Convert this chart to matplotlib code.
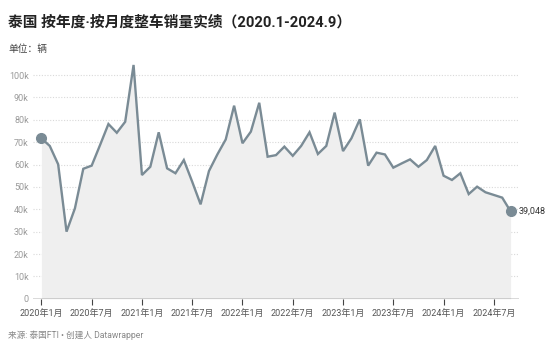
import numpy as np
import matplotlib
matplotlib.use('Agg')
import matplotlib.pyplot as plt

plt.rcParams['font.family'] = ['Roboto', 'Noto Sans CJK SC', 'DejaVu Sans']

# monthly sales, Jan 2020 - Sep 2024
sales = [71700, 68300, 60100, 30000, 40400, 58100, 59500, 68700, 78100, 74200, 79100, 104500,
         55300, 59000, 74400, 58300, 56100, 62000, 52300, 42200, 57100, 64500, 71200, 86300,
         69500, 74700, 87600, 63500, 64200, 68000, 63900, 68300, 74400, 64700, 68300, 83200,
         66000, 71700, 80200, 59500, 65300, 64500, 58600, 60500, 62300, 59000, 62000, 68300,
         55000, 53100, 56100, 46800, 50100, 47600, 46400, 45200, 39048]
tick_labels = ['2020年1月', '2020年7月', '2021年1月', '2021年7月', '2022年1月',
               '2022年7月', '2023年1月', '2023年7月', '2024年1月', '2024年7月']

x = np.arange(len(sales))
line_col = '#7a8b95'

fig = plt.figure(figsize=(5.54, 3.54), dpi=100)
ax = fig.add_axes([0.0596, 0.156, 0.8772, 0.670])

ax.fill_between(x, sales, 0, color='#efefef', lw=0, zorder=1)
ax.plot(x, sales, color=line_col, lw=1.7, zorder=3, solid_joinstyle='miter')
ax.plot([x[0], x[-1]], [sales[0], sales[-1]], 'o', color=line_col, ms=7, zorder=4)
ax.annotate(f'{sales[-1]:,}', (x[-1], sales[-1]), xytext=(6, 0), textcoords='offset points',
            va='center', ha='left', fontsize=6.5, color='#333333')

ax.set_xlim(-1.0, 57.0)
ax.set_ylim(0, 106000)

yt = np.arange(0, 100001, 10000)
ax.set_yticks(yt)
ax.set_yticklabels(['0'] + [f'{int(v/1000)}k' for v in yt[1:]])
for v in yt[1:]:
    ax.axhline(v, color='#d9d9d9', lw=0.8, ls=(0, (1, 1.5)), zorder=0)
ax.axhline(0, color='#444444', lw=1, zorder=5)

ax.set_xticks(np.arange(0, 57, 6))
ax.set_xticklabels(tick_labels)
ax.tick_params(axis='x', length=4, width=0.8, color='#444444', labelsize=6.5,
               labelcolor='#555555', pad=3)
ax.tick_params(axis='y', length=0, labelsize=6.5, labelcolor='#9a9a9a', pad=3)

for s in ax.spines.values():
    s.set_visible(False)

fig.text(0.0145, 0.937, '泰国 按年度·按月度整车销量实绩（2020.1-2024.9）',
         fontsize=10.6, fontweight='bold', color='#222222', va='center')
fig.text(0.0145, 0.862, '单位：辆', fontsize=7, color='#444444', va='center')
fig.text(0.0145, 0.054, '来源: 泰国FTI • 创建人 Datawrapper', fontsize=6.2,
         color='#888888', va='center')

fig.savefig('out.png', dpi=100)
